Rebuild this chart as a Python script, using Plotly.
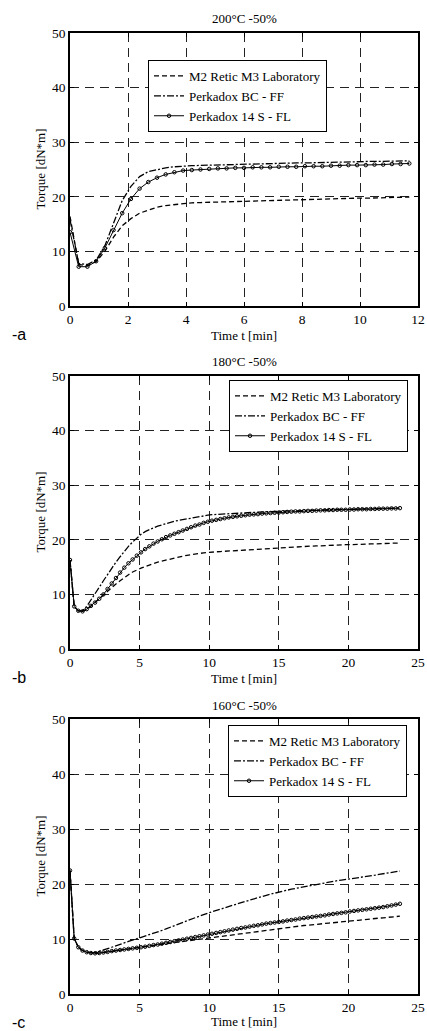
import plotly.graph_objects as go

# ---------------- data ----------------
# sampling times [min]
time_a = [round(0.3 * i, 1) for i in range(40)]
time_b = [round(0.3 * i, 1) for i in range(80)]
time_c = [round(0.3 * i, 1) for i in range(80)]

series_names = ["M2 Retic M3 Laboratory", "Perkadox BC - FF", "Perkadox 14 S - FL"]
panel_titles = ["200°C -50%", "180°C -50%", "160°C -50%"]
panel_labels = ["-a", "-b", "-c"]
x_ticks_a = [0, 2, 4, 6, 8, 10, 12]
x_ticks_bc = [0, 5, 10, 15, 20, 25]
y_ticks = [0, 10, 20, 30, 40, 50]

# 200 °C
m2_a = [16.4, 7.6, 7.4, 8.1, 10.0, 12.6, 14.7, 16.0, 17.0, 17.6,
        18.1, 18.4, 18.6, 18.8, 18.9, 18.95, 19.0, 19.05, 19.1, 19.1,
        19.15, 19.2, 19.2, 19.3, 19.35, 19.4, 19.45, 19.5, 19.55, 19.6,
        19.6, 19.65, 19.7, 19.75, 19.75, 19.8, 19.85, 19.9, 19.9, 19.95]
bc_a = [15.8, 7.8, 7.6, 8.4, 11.0, 15.3, 19.3, 21.9, 23.7, 24.6,
        25.0, 25.3, 25.5, 25.65, 25.7, 25.75, 25.8, 25.85, 25.9, 25.95,
        26.0, 26.0, 26.05, 26.1, 26.1, 26.15, 26.2, 26.2, 26.25, 26.3,
        26.3, 26.35, 26.4, 26.4, 26.45, 26.5, 26.5, 26.55, 26.6, 26.6]
s14_a = [13.5, 7.2, 7.2, 8.2, 10.6, 13.9, 17.0, 19.6, 21.5, 22.7,
         23.5, 24.1, 24.5, 24.8, 24.9, 25.0, 25.1, 25.2, 25.2, 25.3,
         25.3, 25.4, 25.4, 25.4, 25.5, 25.5, 25.5, 25.6, 25.6, 25.6,
         25.7, 25.7, 25.8, 25.8, 25.8, 25.9, 25.9, 26.0, 26.0, 26.1]

# 180 °C
m2_b = [16.3, 7.8, 7.0, 6.9, 7.2, 7.8, 8.5, 9.2, 9.9, 10.6,
        11.3, 11.9, 12.5, 13.1, 13.6, 14.1, 14.5, 14.8, 15.1, 15.4,
        15.65, 15.9, 16.1, 16.3, 16.5, 16.7, 16.85, 17.0, 17.15, 17.3,
        17.4, 17.5, 17.6, 17.7, 17.75, 17.8, 17.85, 17.9, 17.95, 18.0,
        18.05, 18.1, 18.15, 18.2, 18.25, 18.3, 18.35, 18.4, 18.45, 18.5,
        18.55, 18.6, 18.65, 18.7, 18.7, 18.75, 18.8, 18.8, 18.85, 18.9,
        18.9, 18.95, 19.0, 19.0, 19.05, 19.05, 19.1, 19.1, 19.15, 19.15,
        19.2, 19.2, 19.25, 19.25, 19.3, 19.3, 19.35, 19.35, 19.4, 19.4]
bc_b = [16.3, 7.8, 7.0, 7.0, 7.8, 8.9, 10.1, 11.3, 12.5, 13.7,
        14.8, 15.9, 16.9, 17.9, 18.8, 19.6, 20.4, 21.0, 21.5, 21.9,
        22.2, 22.5, 22.75, 23.0, 23.2, 23.4, 23.55, 23.7, 23.85, 24.0,
        24.1, 24.25, 24.35, 24.5, 24.6, 24.65, 24.7, 24.75, 24.8, 24.85,
        24.9, 24.95, 25.0, 25.0, 25.05, 25.1, 25.1, 25.15, 25.15, 25.2,
        25.2, 25.25, 25.3, 25.3, 25.3, 25.35, 25.35, 25.4, 25.4, 25.45,
        25.45, 25.5, 25.5, 25.5, 25.55, 25.55, 25.6, 25.6, 25.6, 25.65,
        25.65, 25.65, 25.7, 25.7, 25.7, 25.75, 25.75, 25.8, 25.8, 25.8]
s14_b = [16.3, 7.8, 7.0, 6.9, 7.3, 7.9, 8.5, 9.2, 10.0, 11.0,
         12.0, 13.0, 14.0, 14.9, 15.7, 16.4, 17.1, 17.7, 18.3, 18.8,
         19.3, 19.7, 20.1, 20.5, 20.8, 21.1, 21.4, 21.7, 22.0, 22.3,
         22.6, 22.8, 23.1, 23.3, 23.5, 23.65, 23.8, 23.95, 24.1, 24.2,
         24.3, 24.4, 24.5, 24.6, 24.65, 24.7, 24.8, 24.85, 24.9, 24.95,
         25.0, 25.05, 25.1, 25.15, 25.2, 25.2, 25.25, 25.3, 25.3, 25.35,
         25.4, 25.4, 25.45, 25.45, 25.5, 25.5, 25.5, 25.55, 25.55, 25.6,
         25.6, 25.6, 25.65, 25.65, 25.7, 25.7, 25.7, 25.75, 25.75, 25.8]

# 160 °C
m2_c = [22.45, 10.1, 8.5, 7.9, 7.6, 7.45, 7.4, 7.45, 7.55, 7.65,
        7.75, 7.85, 7.95, 8.05, 8.15, 8.2, 8.3, 8.4, 8.5, 8.6,
        8.75, 8.85, 9.0, 9.1, 9.25, 9.35, 9.5, 9.6, 9.7, 9.85,
        9.95, 10.05, 10.15, 10.25, 10.35, 10.45, 10.55, 10.65, 10.75, 10.85,
        10.95, 11.05, 11.15, 11.25, 11.35, 11.45, 11.55, 11.65, 11.75, 11.85,
        11.95, 12.05, 12.1, 12.2, 12.3, 12.35, 12.45, 12.5, 12.6, 12.65,
        12.75, 12.8, 12.9, 12.95, 13.05, 13.1, 13.2, 13.25, 13.35, 13.4,
        13.5, 13.55, 13.65, 13.7, 13.8, 13.85, 13.95, 14.0, 14.1, 14.15]
bc_c = [22.45, 10.1, 8.5, 7.9, 7.6, 7.5, 7.55, 7.75, 8.0, 8.25,
        8.5, 8.8, 9.05, 9.3, 9.55, 9.8, 10.0, 10.2, 10.45, 10.7,
        10.95, 11.25, 11.55, 11.85, 12.15, 12.45, 12.75, 13.05, 13.35, 13.65,
        13.95, 14.2, 14.45, 14.7, 14.95, 15.2, 15.45, 15.7, 15.9, 16.1,
        16.4, 16.6, 16.85, 17.05, 17.3, 17.5, 17.75, 17.95, 18.15, 18.35,
        18.55, 18.7, 18.9, 19.05, 19.2, 19.35, 19.5, 19.65, 19.8, 19.95,
        20.1, 20.2, 20.35, 20.5, 20.6, 20.7, 20.8, 20.9, 21.0, 21.15,
        21.25, 21.35, 21.5, 21.6, 21.75, 21.85, 22.0, 22.1, 22.25, 22.35]
s14_c = [22.45, 10.1, 8.5, 7.9, 7.6, 7.45, 7.4, 7.45, 7.55, 7.65,
         7.8, 7.9, 8.0, 8.1, 8.2, 8.3, 8.4, 8.5, 8.6, 8.75,
         8.9, 9.0, 9.15, 9.3, 9.45, 9.6, 9.75, 9.9, 10.05, 10.2,
         10.35, 10.5, 10.65, 10.8, 10.95, 11.1, 11.25, 11.4, 11.55, 11.7,
         11.85, 12.0, 12.1, 12.25, 12.4, 12.5, 12.65, 12.8, 12.9, 13.0,
         13.1, 13.2, 13.35, 13.45, 13.55, 13.7, 13.8, 13.9, 14.0, 14.1,
         14.2, 14.3, 14.45, 14.55, 14.65, 14.75, 14.85, 15.0, 15.1, 15.2,
         15.3, 15.4, 15.5, 15.6, 15.7, 15.8, 15.95, 16.1, 16.25, 16.4]

# ---------------- figure ----------------
W, H = 427, 1031
SERIF = "Liberation Serif"
SANS = "Liberation Sans"

panels = [
    dict(t=time_a, ys=[m2_a, bc_a, s14_a], xr=[0, 12], xt=x_ticks_a,
         top=33, bot=306, title_y=19, xt_y=335, lab_y=334,
         leg=(148, 60)),
    dict(t=time_b, ys=[m2_b, bc_b, s14_b], xr=[0, 25], xt=x_ticks_bc,
         top=376, bot=649, title_y=362, xt_y=678, lab_y=677,
         leg=(229, 380)),
    dict(t=time_c, ys=[m2_c, bc_c, s14_c], xr=[0, 25], xt=x_ticks_bc,
         top=719, bot=994, title_y=705, xt_y=1021, lab_y=1022,
         leg=(228, 725)),
]
x_left, x_right = 70, 418

fig = go.Figure()
styles = [
    dict(mode="lines", line=dict(color="black", width=1.3, dash="5px,3px")),
    dict(mode="lines", line=dict(color="black", width=1.3, dash="7px,2px,2px,2px")),
    dict(mode="lines+markers", line=dict(color="black", width=1.0),
         marker=dict(symbol="circle-open", size=3.5, color="black",
                     line=dict(width=1, color="black"))),
]

annotations = []
layout = {}
for i, p in enumerate(panels):
    k = "" if i == 0 else str(i + 1)
    legname = "legend" + k
    for name, ys, st in zip(series_names, p["ys"], styles):
        fig.add_trace(go.Scatter(x=p["t"], y=ys, name=name,
                                 xaxis="x" + k, yaxis="y" + k,
                                 legend=legname, showlegend=True, **st))
    common = dict(showline=True, linecolor="black", linewidth=1.5, mirror="ticks",
                  ticks="inside", ticklen=4, tickcolor="black",
                  showgrid=True, gridcolor="#222", gridwidth=1,
                  griddash="9px,6px", zeroline=False, ticklabeloverflow="allow",
                  automargin=False,
                  tickfont=dict(family=SERIF, size=13.5, color="black"))
    layout["xaxis" + k] = dict(domain=[x_left / W, x_right / W],
                               range=p["xr"], tickvals=p["xt"],
                               anchor="y" + k, **common)
    layout["yaxis" + k] = dict(domain=[1 - p["bot"] / H, 1 - p["top"] / H],
                               range=[0, 50], tickvals=y_ticks,
                               anchor="x" + k, **common)
    lx, ly = p["leg"]
    layout[legname] = dict(x=lx / W, y=1 - ly / H, xanchor="left", yanchor="top",
                           bgcolor="white", bordercolor="black", borderwidth=1,
                           font=dict(family=SERIF, size=13, color="black"),
                           itemwidth=30, tracegroupgap=0)
    xc = (x_left + x_right) / 2 / W
    annotations += [
        dict(text=panel_titles[i], x=xc, y=1 - p["title_y"] / H, xref="paper",
             yref="paper", showarrow=False, xanchor="center", yanchor="middle",
             font=dict(family=SERIF, size=13, color="black")),
        dict(text="Time t [min]", x=xc, y=1 - p["xt_y"] / H, xref="paper",
             yref="paper", showarrow=False, xanchor="center", yanchor="middle",
             font=dict(family=SERIF, size=13, color="black")),
        dict(text="Torque [dN*m]", x=40 / W, y=1 - (p["top"] + p["bot"]) / 2 / H,
             xref="paper", yref="paper", showarrow=False, textangle=-90,
             xanchor="center", yanchor="middle",
             font=dict(family=SERIF, size=13, color="black")),
        dict(text=panel_labels[i], x=10 / W, y=1 - p["lab_y"] / H, xref="paper",
             yref="paper", showarrow=False, xanchor="left", yanchor="middle",
             font=dict(family=SANS, size=16, color="black")),
    ]

fig.update_layout(width=W, height=H, margin=dict(l=0, r=0, t=0, b=0, autoexpand=False),
                  paper_bgcolor="white", plot_bgcolor="white",
                  annotations=annotations, **layout)
fig.write_html("out.html", config={"displayModeBar": False},
               post_script="document.body.style.margin='0';"
                           "document.body.style.padding='0';"
                           "document.body.style.overflow='hidden';")
